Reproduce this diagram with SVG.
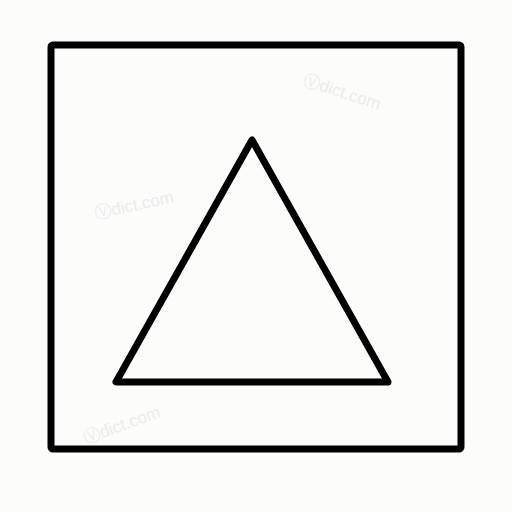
<svg xmlns="http://www.w3.org/2000/svg" width="512" height="512" viewBox="0 0 512 512">
<style>
.shape{fill:none;stroke:#000;stroke-width:7;stroke-linejoin:round;stroke-linecap:round}
.wm{font-family:"Liberation Sans",Arial,sans-serif;font-size:17px;fill:#ebebeb}
</style>
<rect x="0" y="0" width="512" height="512" fill="#fcfcfa"/>
<g id="square"><rect class="shape" x="51" y="45" width="410" height="404" rx="2"/></g>
<g id="triangle"><polygon class="shape" points="252,140 116,382 388,382"/></g>
<g id="watermarks">
<text class="wm" x="302" y="85" transform="rotate(18 302 85)">Ⓥdict.com</text>
<text class="wm" x="96" y="219" transform="rotate(-12 96 219)">Ⓥdict.com</text>
<text class="wm" x="86" y="444" transform="rotate(-20 86 444)">Ⓥdict.com</text>
</g>
</svg>
